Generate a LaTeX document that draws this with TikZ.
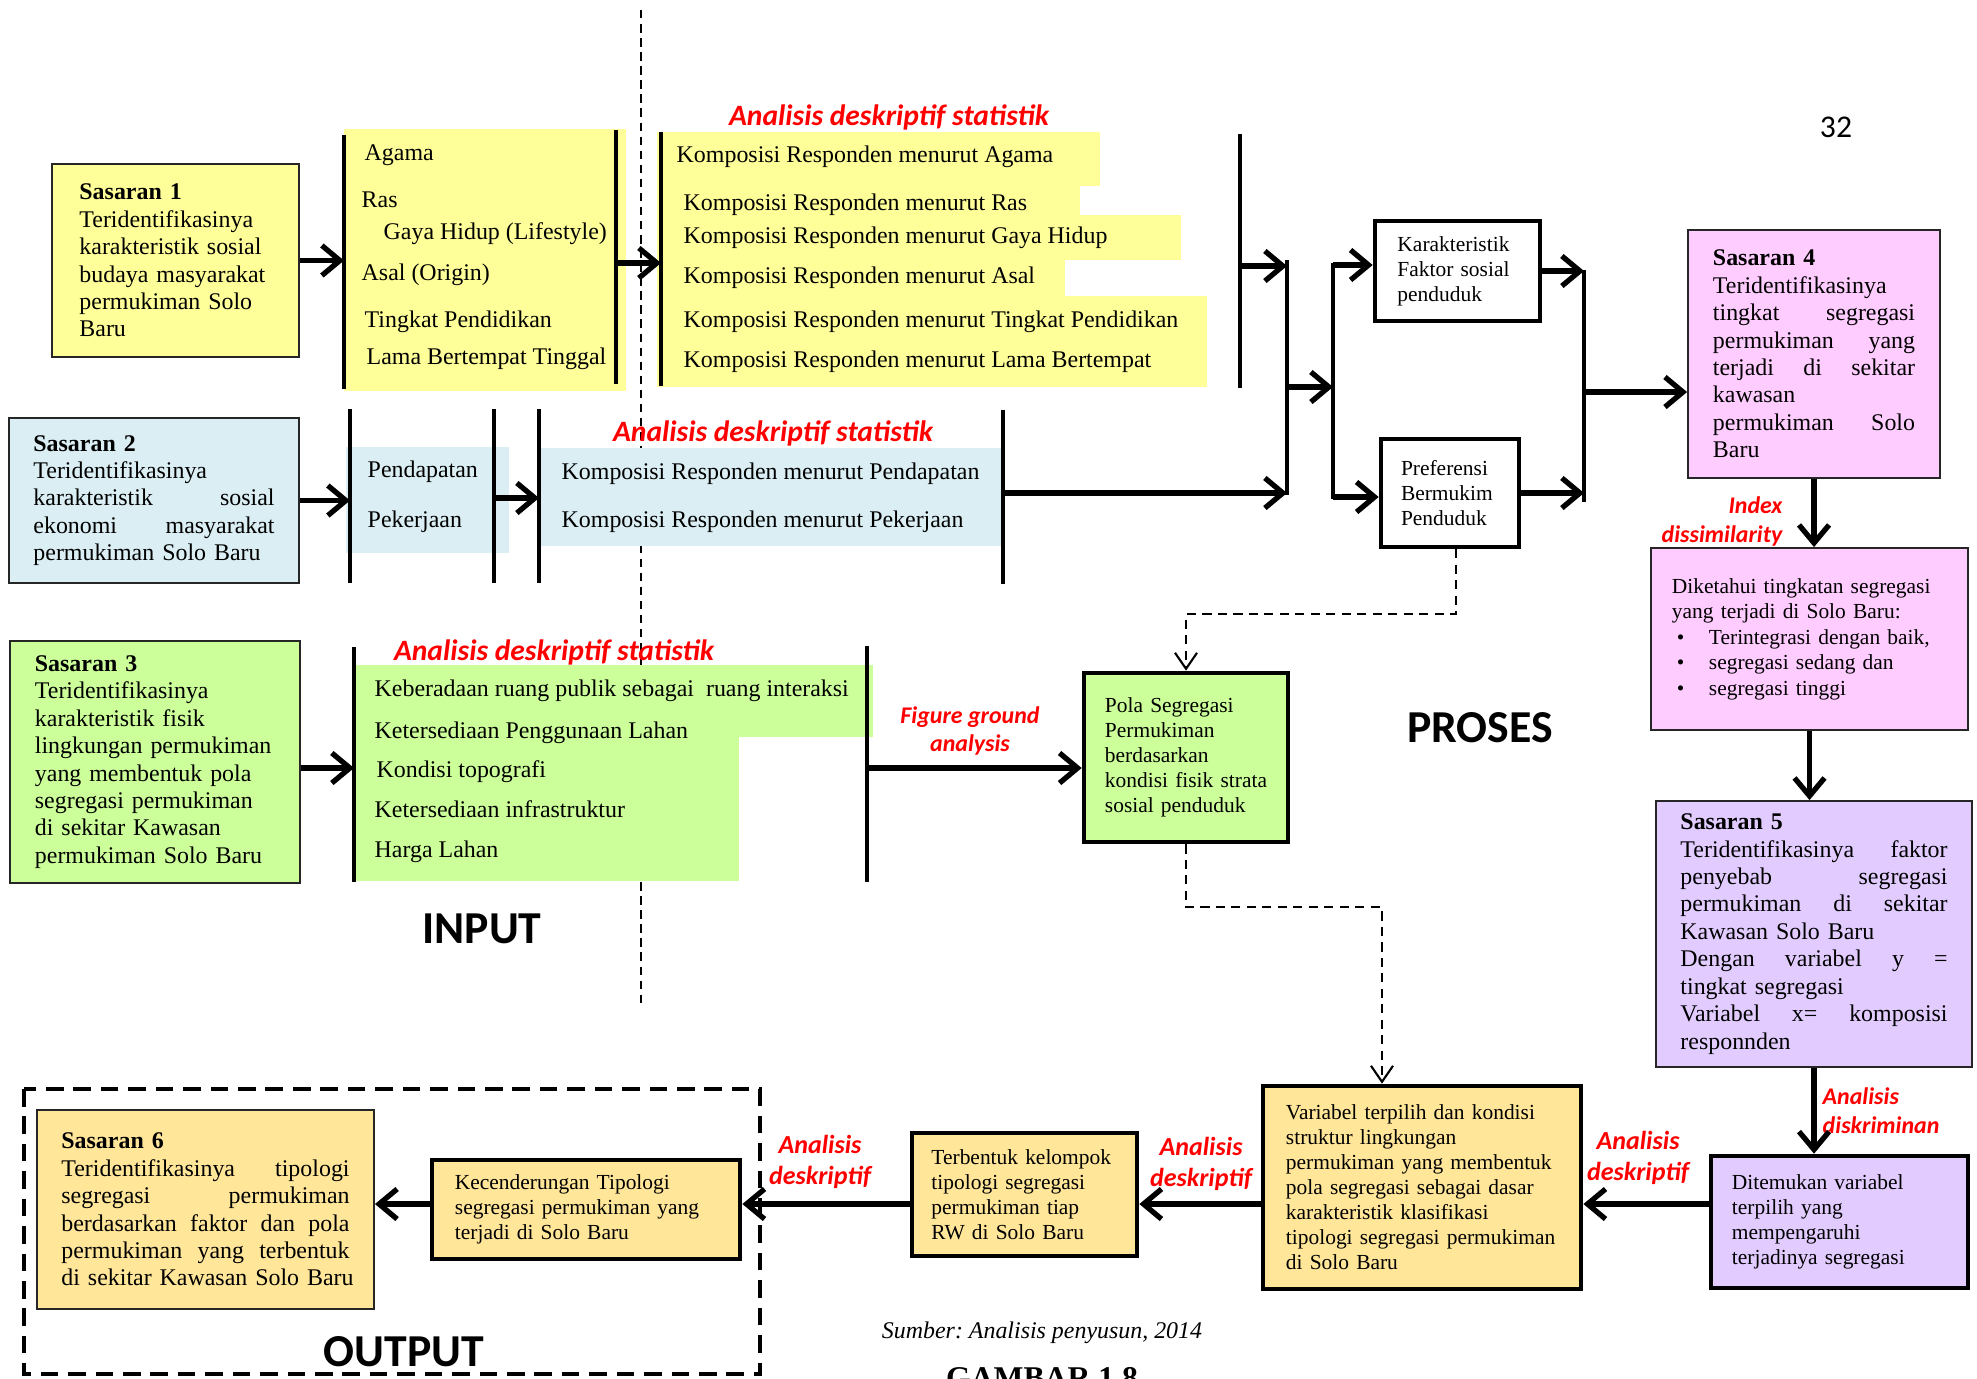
\documentclass[tikz,border=0pt]{standalone}
\usepackage{fontspec}
\setmainfont{Liberation Serif}
\newfontfamily\lblfont{Carlito}
\usetikzlibrary{arrows.meta}

\definecolor{yelfill}{HTML}{FFFF99}
\definecolor{bluefill}{HTML}{DAEEF3}
\definecolor{grnfill}{HTML}{CCFF99}
\definecolor{pinkfill}{HTML}{FFCCFF}
\definecolor{lavfill}{HTML}{E2CCFF}
\definecolor{goldfill}{HTML}{FFE699}

\newcommand{\txtbig}{\fontsize{6.8}{7.8}\selectfont}
\newcommand{\txtsmall}{\fontsize{6.1}{7.1}\selectfont}
\newcommand{\redbig}{\lblfont\bfseries\itshape\fontsize{8.4}{10}\selectfont}
\newcommand{\redmid}{\lblfont\bfseries\itshape\fontsize{7.4}{8.8}\selectfont}
\newcommand{\redsml}{\lblfont\bfseries\itshape\fontsize{6.8}{8.1}\selectfont}

\begin{document}
\begin{tikzpicture}[x=0.01cm, y=-0.01cm,
		sbox/.style={draw=black!85, line width=0.5pt, inner sep=0pt, align=left, font=\txtbig},
		kbox/.style={draw, line width=1.3pt, inner sep=0pt, align=left, font=\txtsmall},
		item/.style={anchor=west, inner sep=0pt, font=\txtbig, text height=4.6pt, text depth=1.5pt},
		lbl/.style={text=red, inner sep=0pt, align=center, font=#1},
		head/.style={inner sep=0pt, font=\lblfont\bfseries\fontsize{13}{15}\selectfont},
		bar/.style={line width=1.3pt},
		arr/.style={line width=1.5pt, -{Straight Barb[length=1.8mm, width=3mm]}},
		darr/.style={line width=0.6pt, dash pattern=on 2.6pt off 1.8pt, -{Straight Barb[length=1.6mm, width=2.2mm]}}]
	\useasboundingbox (0,0) rectangle (1977,1378);

	\draw[line width=0.45pt, dash pattern=on 2.4pt off 1.6pt] (641,10) -- (641,1005);

	\fill[yelfill] (344,129) rectangle (626,391);
	\fill[yelfill] (657,132) rectangle (1100,186);
	\fill[yelfill] (657,186) rectangle (1080,215);
	\fill[yelfill] (657,215) rectangle (1181,260);
	\fill[yelfill] (657,260) rectangle (1065,296);
	\fill[yelfill] (657,296) rectangle (1207,387);
	\fill[bluefill] (346,447) rectangle (509,553);
	\fill[bluefill] (539,448) rectangle (1001,546);
	\fill[grnfill] (354,665) rectangle (873,737);
	\fill[grnfill] (354,737) rectangle (739,881);

	\draw[bar] (344,135) -- (344,389);
	\draw[bar] (616,130) -- (616,384);
	\draw[bar] (661,132) -- (661,386);
	\draw[bar] (1240,134) -- (1240,388);
	\draw[bar] (350,409) -- (350,583);
	\draw[bar] (494,409) -- (494,583);
	\draw[bar] (539,409) -- (539,583);
	\draw[bar] (1003,410) -- (1003,584);
	\draw[bar] (354,647) -- (354,882);
	\draw[bar] (867,646) -- (867,882);
	\draw[bar] (1287,260) -- (1287,495);
	\draw[bar] (1333,263) -- (1333,499);
	\draw[bar] (1584,270) -- (1584,502);

	\coordinate (in1) at (344,260);
	\coordinate (out1) at (616,263);
	\coordinate (in1k) at (661,263);
	\coordinate (out1k) at (1240,266);
	\coordinate (j1t) at (1287,266);
	\coordinate (in2) at (350,497);
	\coordinate (out2) at (494,498);
	\coordinate (in2k) at (539,498);
	\coordinate (out2k) at (1003,493);
	\coordinate (j1b) at (1287,493);
	\coordinate (j1m) at (1287,387);
	\coordinate (j2m) at (1333,387);
	\coordinate (j2t) at (1333,265);
	\coordinate (j2b) at (1333,497);
	\coordinate (j3t) at (1584,273);
	\coordinate (j3m) at (1584,392);
	\coordinate (in3) at (354,768);
	\coordinate (out3) at (867,768);
	\coordinate (rowy) at (0,1204);

	\node[sbox, fill=yelfill, minimum width=2.47cm, minimum height=1.93cm, text width=1.92cm] (s1) at (175.5,260.5) {\textbf{Sasaran 1}\\Teridentifikasinya\\\mbox{karakteristik sosial}\\\mbox{budaya masyarakat}\\permukiman Solo\\Baru};
	\node[sbox, fill=bluefill, minimum width=2.90cm, minimum height=1.65cm, text width=2.41cm] (s2) at (154,500.5) {\textbf{Sasaran 2}\\Teridentifikasinya\\karakteristik\hfill sosial\\ekonomi\hfill masyarakat\\permukiman Solo Baru};
	\node[sbox, fill=grnfill, minimum width=2.90cm, minimum height=2.42cm, text width=2.40cm] (s3) at (155,762) {\textbf{Sasaran 3}\\Teridentifikasinya\\karakteristik fisik\\\mbox{lingkungan permukiman}\\yang membentuk pola\\segregasi permukiman\\di sekitar Kawasan\\permukiman Solo Baru};
	\node[sbox, fill=pinkfill, minimum width=2.52cm, minimum height=2.48cm, text width=2.02cm] (s4) at (1814,354) {\textbf{Sasaran 4}\\Teridentifikasinya\\tingkat\hfill segregasi\\permukiman\hfill yang\\terjadi\hfill di\hfill sekitar\\kawasan\\permukiman\hfill Solo\\Baru};
	\node[sbox, fill=pinkfill, minimum width=3.17cm, minimum height=1.82cm, text width=2.75cm, font=\fontsize{6.1}{7.25}\selectfont] (dik) at (1809.5,639) {Diketahui tingkatan segregasi\\yang terjadi di Solo Baru:\\\hspace*{0.05cm}\makebox[0.32cm][l]{\textbullet}Terintegrasi dengan baik,\\\hspace*{0.05cm}\makebox[0.32cm][l]{\textbullet}segregasi sedang dan\\\hspace*{0.05cm}\makebox[0.32cm][l]{\textbullet}segregasi tinggi};
	\node[sbox, fill=lavfill, minimum width=3.16cm, minimum height=2.66cm, text width=2.67cm] (s5) at (1814,934) {\textbf{Sasaran 5}\\Teridentifikasinya\hfill faktor\\penyebab\hfill segregasi\\permukiman\hfill di\hfill sekitar\\Kawasan Solo Baru\\Dengan\hfill variabel\hfill y\hfill =\\tingkat segregasi\\Variabel\hfill x=\hfill komposisi\\responnden};
	\node[kbox, fill=lavfill, minimum width=2.57cm, minimum height=1.32cm, text width=2.15cm] (dit) at (1839.5,1222) {Ditemukan variabel\\terpilih yang\\mempengaruhi\\terjadinya segregasi};
	\node[kbox, fill=goldfill, minimum width=3.18cm, minimum height=2.03cm, text width=2.72cm] (var) at (1422,1187.5) {Variabel terpilih dan kondisi\\struktur lingkungan\\\mbox{permukiman yang membentuk}\\pola segregasi sebagai dasar\\karakteristik klasifikasi\\\mbox{tipologi segregasi permukiman}\\di Solo Baru};
	\node[kbox, fill=goldfill, minimum width=2.25cm, minimum height=1.23cm, text width=1.86cm] (ter) at (1024.5,1194.5) {\mbox{Terbentuk kelompok}\\tipologi segregasi\\permukiman tiap\\RW di Solo Baru};
	\node[kbox, fill=goldfill, minimum width=3.08cm, minimum height=0.99cm, text width=2.62cm] (kec) at (586,1209.5) {Kecenderungan Tipologi\\segregasi permukiman yang\\terjadi di Solo Baru};
	\node[sbox, fill=goldfill, minimum width=3.37cm, minimum height=1.99cm, text width=2.88cm] (s6) at (205.5,1209.5) {\textbf{Sasaran 6}\\Teridentifikasinya\hfill tipologi\\segregasi\hfill permukiman\\berdasarkan\hfill faktor\hfill dan\hfill pola\\permukiman\hfill yang\hfill terbentuk\\\mbox{di sekitar Kawasan Solo Baru}};
	\node[kbox, fill=white, minimum width=1.65cm, minimum height=1.00cm, text width=1.20cm] (kar) at (1457.5,271) {Karakteristik\\Faktor sosial\\penduduk};
	\node[kbox, fill=white, minimum width=1.38cm, minimum height=1.08cm, text width=0.98cm] (pref) at (1450,493) {Preferensi\\\mbox{Bermukim}\\Penduduk};
	\node[kbox, fill=grnfill, minimum width=2.04cm, minimum height=1.69cm, text width=1.62cm] (pola) at (1186,757.5) {Pola Segregasi\\Permukiman\\berdasarkan\\\mbox{kondisi fisik strata}\\sosial penduduk};

	\node[item] (agama) at (364,155) {Agama};
	\node[item] (ras) at (361,202) {Ras};
	\node[item] (gaya) at (383,234) {Gaya Hidup (Lifestyle)};
	\node[item] (asal) at (361,275) {Asal (Origin)};
	\node[item] (didik) at (364,322) {Tingkat Pendidikan};
	\node[item] (lama) at (366,359) {Lama Bertempat Tinggal};
	\node[item] (kagama) at (676,157) {Komposisi Responden menurut Agama};
	\node[item] (kras) at (683,205) {Komposisi Responden menurut Ras};
	\node[item] (kgaya) at (683,238) {Komposisi Responden menurut Gaya Hidup};
	\node[item] (kasal) at (683,278) {Komposisi Responden menurut Asal};
	\node[item] (kdidik) at (683,322) {Komposisi Responden menurut Tingkat Pendidikan};
	\node[item] (klama) at (683,362) {Komposisi Responden menurut Lama Bertempat};
	\node[item] (dapat) at (367,472) {Pendapatan};
	\node[item] (kerja) at (367,522) {Pekerjaan};
	\node[item] (kdapat) at (561,474) {Komposisi Responden menurut Pendapatan};
	\node[item] (kkerja) at (561,522) {Komposisi Responden menurut Pekerjaan};
	\node[item] (ruang) at (374,691) {Keberadaan ruang publik sebagai~ ruang interaksi};
	\node[item] (lahan) at (374,733) {Ketersediaan Penggunaan Lahan};
	\node[item] (topo) at (376,772) {Kondisi topografi};
	\node[item] (infra) at (374,812) {Ketersediaan infrastruktur};
	\node[item] (harga) at (374,852) {Harga Lahan};

	\node[lbl=\redbig] (stat1) at (889,117) {Analisis deskriptif statistik};
	\node[lbl=\redbig] (stat2) at (773,433) {Analisis deskriptif statistik};
	\node[lbl=\redbig] (stat3) at (554,652) {Analisis deskriptif statistik};
	\node[lbl=\redsml] (fga) at (970,731) {Figure ground\\analysis};
	\node[lbl=\redsml, anchor=east, align=right] (idx) at (1783,521.5) {Index\\dissimilarity};
	\node[lbl=\redsml, anchor=west, align=left] (diskr) at (1822,1110.5) {Analisis\\diskriminan};
	\node[lbl=\redmid] (desk1) at (1638,1157.5) {Analisis\\deskriptif};
	\node[lbl=\redmid] (desk2) at (1201,1163.5) {Analisis\\deskriptif};
	\node[lbl=\redmid] (desk3) at (820,1161.5) {Analisis\\deskriptif};

	\node[head] (input) at (482,929) {INPUT};
	\node[head] (proses) at (1480,728) {PROSES};
	\node[head] (output) at (404,1352) {OUTPUT};
	\draw[line width=1pt, dash pattern=on 5pt off 2.8pt] (24,1089) rectangle (760,1374);

	\node[font=\txtbig\itshape] (src) at (1042,1333) {Sumber:\ Analisis penyusun, 2014};
	\node[font=\bfseries\fontsize{9}{11}\selectfont, anchor=base] (fig) at (1042,1388) {GAMBAR 1.8};
	\node[font=\lblfont\fontsize{9}{11}\selectfont] (page) at (1836,127) {32};

	\draw[arr] (s1.east) -- (s1.east -| in1);
	\draw[arr] (out1) -- (in1k);
	\draw[arr] (out1k) -- (j1t);
	\draw[arr] (s2.east) -- (s2.east -| in2);
	\draw[arr] (out2) -- (in2k);
	\draw[arr] (out2k) -- (j1b);
	\draw[arr] (j1m) -- (j2m);
	\draw[arr] (j2t) -- (j2t -| kar.west);
	\draw[arr] (j2b) -- (j2b -| pref.west);
	\draw[arr] (kar.east) -- (kar.east -| j3t);
	\draw[arr] (pref.east) -- (pref.east -| j3t);
	\draw[arr] (j3m) -- (j3m -| s4.west);
	\draw[arr] (in3 -| s3.east) -- (in3);
	\draw[arr] (out3) -- (out3 -| pola.west);
	\draw[arr] (s4.south) -- (s4.south |- dik.north);
	\draw[arr] (dik.south) -- (dik.south |- s5.north);
	\draw[arr] (s5.south) -- (s5.south |- dit.north);
	\draw[arr] (dit.west |- rowy) -- (var.east |- rowy);
	\draw[arr] (var.west |- rowy) -- (ter.east |- rowy);
	\draw[arr] (ter.west |- rowy) -- (kec.east |- rowy);
	\draw[arr] (kec.west |- rowy) -- (s6.east |- rowy);
	\draw[darr] ([xshift=0.06cm]pref.south) -- ++(0,65) -| (pola.north);
	\draw[darr] (pola.south) -- ++(0,63) -| ([xshift=-0.4cm]var.north);
\end{tikzpicture}
\end{document}
